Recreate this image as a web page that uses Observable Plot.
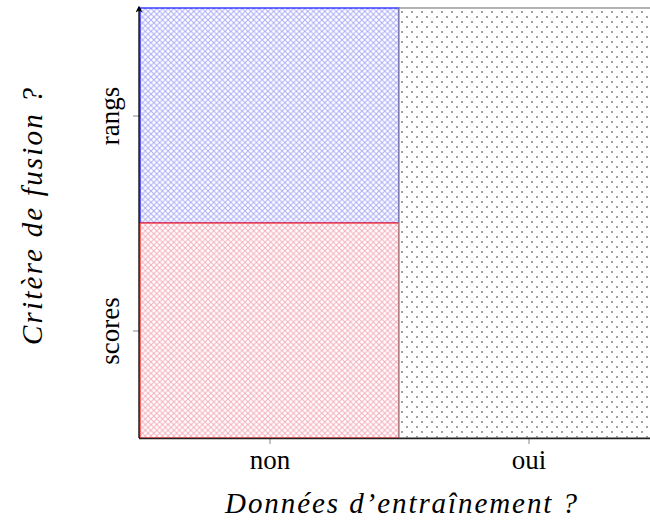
<!DOCTYPE html>
<html>
<head>
<meta charset="utf-8">
<script src="https://cdn.jsdelivr.net/npm/d3@7"></script>
<script src="https://cdn.jsdelivr.net/npm/@observablehq/plot@0.6"></script>
<style>
  body { margin: 0; background: #fff; }
  #chart svg { display: block; }
  g[aria-label="x-axis tick"], g[aria-label="y-axis tick"] { stroke: #888; }
</style>
</head>
<body>
<div id="chart"></div>
<script>
// ---- data ----
const xCategories = ["non", "oui"];
const yCategories = ["scores", "rangs"];
const xTitle = "Données d’entraînement ?";
const yTitle = "Critère de fusion ?";
// regions of the (x, y) grid: x category, y span from/to, group key
const regionX = ["non", "non", "oui"];
const regionYFrom = ["rangs", "scores", "scores"];
const regionYTo = ["rangs", "scores", "rangs"];
const regionKey = ["rangs", "scores", "both"];

// ---- styles (by group) ----
const fills = { rangs: "url(#pat-blue)", scores: "url(#pat-red)", both: "url(#pat-dots)" };
const strokes = { rangs: "#2020ff", scores: "#ff3030", both: "#8a8a8a" };

const regions = regionX.map((x, i) => ({
  x,
  y1: yCategories.indexOf(regionYFrom[i]),
  y2: yCategories.indexOf(regionYTo[i]) + 1,
  key: regionKey[i]
}));

const W = 650, H = 527, ML = 139, MT = 8, MB = 89;

const plot = Plot.plot({
  width: W,
  height: H,
  marginLeft: ML,
  marginTop: MT,
  marginBottom: MB,
  marginRight: 0,
  style: { fontFamily: "'Liberation Serif', serif", fontSize: "27px", background: "white", color: "black" },
  x: { domain: xCategories, range: [ML, W + 8], padding: 0, label: null, tickSize: 5, tickPadding: 6.8 },
  y: {
    domain: [0, yCategories.length],
    ticks: yCategories.map((_, i) => i + 0.5),
    tickFormat: d => yCategories[Math.floor(d)],
    tickRotate: -90,
    tickSize: 5,
    tickPadding: 16,
    label: null
  },
  color: { type: "identity" },
  marks: [
    Plot.barY(regions, {
      x: "x", y1: "y1", y2: "y2",
      fill: d => fills[d.key],
      stroke: d => strokes[d.key],
      strokeWidth: 1.3
    }),
    Plot.ruleY([0], { stroke: "#222", strokeWidth: 1.3 })
  ]
});

document.getElementById("chart").appendChild(plot);

// ---- patterns, arrow axis ----
const svg = d3.select(plot);
const defs = svg.insert("defs", ":first-child");
const cross = (id, color, s) => {
  const p = defs.append("pattern").attr("id", id).attr("patternUnits", "userSpaceOnUse")
    .attr("width", s).attr("height", s);
  p.append("rect").attr("width", s).attr("height", s).attr("fill", "white");
  p.append("path").attr("d", `M0,0L${s},${s}M${s},0L0,${s}`).attr("stroke", color).attr("stroke-width", 1.0).attr("fill", "none");
};
cross("pat-blue", "#adadf8", 5.7);
cross("pat-red", "#f5afbd", 5.7);
{
  const s = 10;
  const p = defs.append("pattern").attr("id", "pat-dots").attr("patternUnits", "userSpaceOnUse")
    .attr("width", s).attr("height", s);
  p.append("rect").attr("width", s).attr("height", s).attr("fill", "white");
  p.append("rect").attr("x", 1).attr("y", 1).attr("width", 2).attr("height", 2).attr("fill", "#a2a2a2").attr("shape-rendering", "crispEdges");
  p.append("rect").attr("x", 1 + s / 2).attr("y", 1 + s / 2).attr("width", 2).attr("height", 2).attr("fill", "#a2a2a2").attr("shape-rendering", "crispEdges");
}
defs.append("marker").attr("id", "arrowhead").attr("viewBox", "0 0 10 10").attr("refX", 8).attr("refY", 5)
  .attr("markerWidth", 7).attr("markerHeight", 7).attr("markerUnits", "userSpaceOnUse").attr("orient", "auto")
  .append("path").attr("d", "M0,0L10,5L0,10L3,5Z").attr("fill", "black");

const xs = plot.scale("x"), ys = plot.scale("y");
const x0 = xs.range[0];
const yBottom = ys.apply(0), yTop = ys.apply(ys.domain[1]);
svg.append("line")
  .attr("x1", x0).attr("x2", x0)
  .attr("y1", yBottom).attr("y2", yTop - 1)
  .attr("stroke", "black").attr("stroke-width", 1.3)
  .attr("marker-end", "url(#arrowhead)");

// ticks crossing the axis
svg.selectAll('g[aria-label="x-axis tick"] path').attr("d", "M0,-6L0,6");
svg.selectAll('g[aria-label="y-axis tick"] path').attr("d", "M-6,0L6,0");

// axis titles (italic), positioned from the frame
const titleStyle = sel => sel
  .attr("font-family", "'Liberation Serif', serif")
  .attr("font-style", "italic")
  .attr("font-size", 29)
  .attr("fill", "black")
  .attr("text-anchor", "middle")
  .attr("lengthAdjust", "spacing");
svg.append("text").call(titleStyle)
  .attr("x", x0 + 262).attr("y", yBottom + 75)
  .attr("textLength", 352)
  .text(xTitle);
svg.append("text").call(titleStyle)
  .attr("transform", `translate(${x0 - 97.5},${(yBottom + yTop) / 2 - 6.5}) rotate(-90)`)
  .attr("textLength", 257)
  .text(yTitle);
</script>
</body>
</html>
